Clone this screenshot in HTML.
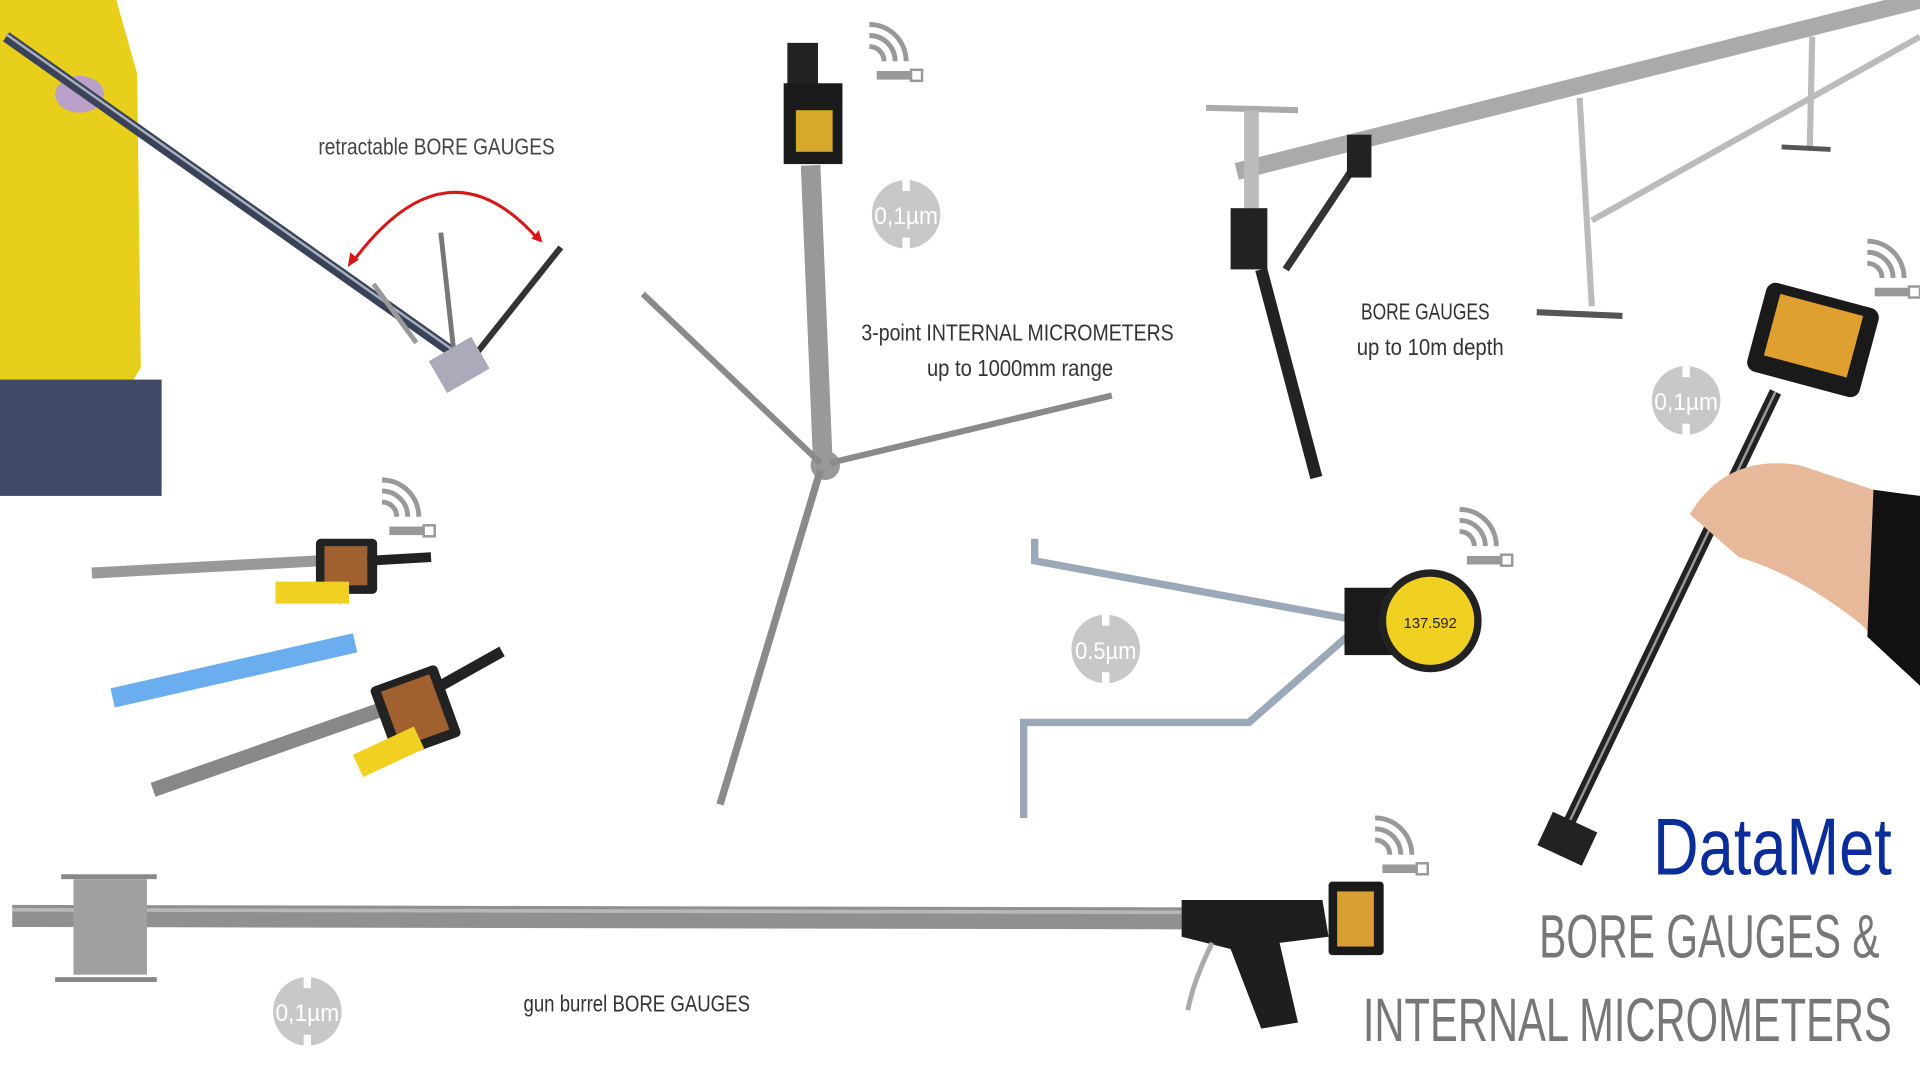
<!DOCTYPE html>
<html><head><meta charset="utf-8"><style>
html,body{margin:0;padding:0;background:#fff;}
svg{display:block;}
text{font-family:"Liberation Sans",sans-serif;}
</style></head><body>
<svg width="1920" height="1080" viewBox="0 0 1568 882" preserveAspectRatio="none" xmlns="http://www.w3.org/2000/svg">
<defs>
<g id="wifi"><path d="M0,0 a30,30 0 0 1 30,30" fill="none" stroke="#999" stroke-width="4"/><path d="M0,9 a21,21 0 0 1 21,21" fill="none" stroke="#999" stroke-width="4"/><path d="M0,18 a12,12 0 0 1 12,12" fill="none" stroke="#999" stroke-width="4"/><rect x="6" y="38" width="28" height="7" fill="#999"/><rect x="34" y="37" width="9" height="9" fill="none" stroke="#999" stroke-width="2"/></g>
<g id="res"><circle r="28" fill="#c8c8c8"/><rect x="-3" y="-28" width="6" height="9" fill="#fff"/><rect x="-3" y="19" width="6" height="9" fill="#fff"/></g>
</defs>
<rect width="1568" height="882" fill="#fff"/>
<!-- person -->
<path d="M0,0 L95,0 L112,60 L115,300 L95,335 L0,335 Z" fill="#e8cf1c"/>
<rect x="0" y="310" width="132" height="95" fill="#3e4a66"/>
<ellipse cx="65" cy="77" rx="20" ry="15" fill="#b9a0c8"/>
<line x1="5" y1="30" x2="380" y2="295" stroke="#3a4258" stroke-width="9"/>
<line x1="5" y1="28" x2="380" y2="293" stroke="#a8b0c0" stroke-width="2"/>
<line x1="372" y1="300" x2="360" y2="190" stroke="#777" stroke-width="4"/>
<line x1="380" y1="300" x2="458" y2="202" stroke="#333" stroke-width="5"/>
<line x1="340" y1="280" x2="305" y2="232" stroke="#999" stroke-width="4"/>
<rect x="355" y="283" width="40" height="30" fill="#aab" transform="rotate(-30 375 298)"/>
<path d="M288,214 Q365,110 440,196" fill="none" stroke="#d81818" stroke-width="2.5"/>
<path d="M284,218 l2,-12 l7,6 z M443,198 l-9,-3 l6,-7 z" fill="#d81818"/>
<text x="260" y="126" font-size="19" fill="#444" textLength="193" lengthAdjust="spacingAndGlyphs">retractable BORE GAUGES</text>
<!-- tripod micrometer -->
<use href="#wifi" x="710" y="20"/>
<rect x="643" y="35" width="25" height="35" fill="#222"/>
<rect x="640" y="68" width="48" height="66" fill="#1a1a1a"/>
<rect x="650" y="90" width="30" height="34" fill="#d8a82a"/>
<line x1="662" y1="135" x2="672" y2="378" stroke="#999" stroke-width="16"/>
<circle cx="674" cy="380" r="12" fill="#999"/>
<line x1="670" y1="378" x2="525" y2="240" stroke="#8a8a8a" stroke-width="5"/>
<line x1="678" y1="378" x2="908" y2="323" stroke="#8a8a8a" stroke-width="5"/>
<line x1="670" y1="384" x2="588" y2="657" stroke="#8a8a8a" stroke-width="6"/>
<use href="#res" x="740" y="175"/>
<text x="740" y="183" font-size="20" fill="#fff" text-anchor="middle" textLength="52" lengthAdjust="spacingAndGlyphs">0,1µm</text>
<text x="831" y="278" font-size="19" fill="#333" text-anchor="middle" textLength="255" lengthAdjust="spacingAndGlyphs">3-point INTERNAL MICROMETERS</text>
<text x="833" y="307" font-size="19" fill="#333" text-anchor="middle" textLength="152" lengthAdjust="spacingAndGlyphs">up to 1000mm range</text>
<!-- top right rail -->
<line x1="1010" y1="140" x2="1568" y2="0" stroke="#aaa" stroke-width="14"/>
<line x1="1300" y1="180" x2="1568" y2="30" stroke="#bbb" stroke-width="5"/>
<line x1="1290" y1="80" x2="1300" y2="250" stroke="#bbb" stroke-width="5"/>
<line x1="1255" y1="255" x2="1325" y2="258" stroke="#555" stroke-width="5"/>
<line x1="1480" y1="30" x2="1478" y2="120" stroke="#bbb" stroke-width="5"/>
<line x1="1455" y1="120" x2="1495" y2="122" stroke="#555" stroke-width="4"/>
<line x1="985" y1="88" x2="1060" y2="90" stroke="#aaa" stroke-width="5"/>
<line x1="1022" y1="90" x2="1022" y2="170" stroke="#bbb" stroke-width="12"/>
<rect x="1005" y="170" width="30" height="50" fill="#222"/>
<line x1="1030" y1="220" x2="1075" y2="390" stroke="#222" stroke-width="10"/>
<line x1="1050" y1="220" x2="1110" y2="130" stroke="#333" stroke-width="6"/>
<rect x="1100" y="110" width="20" height="35" fill="#222"/>
<text x="1164" y="261" font-size="19" fill="#333" text-anchor="middle" textLength="105" lengthAdjust="spacingAndGlyphs">BORE GAUGES</text>
<text x="1168" y="290" font-size="19" fill="#333" text-anchor="middle" textLength="120" lengthAdjust="spacingAndGlyphs">up to 10m depth</text>
<!-- right handheld -->
<use href="#wifi" x="1525" y="197"/>
<rect x="1433" y="240" width="95" height="75" rx="8" fill="#1a1a1a" transform="rotate(15 1480 278)"/>
<rect x="1445" y="248" width="70" height="52" fill="#e0a030" transform="rotate(15 1480 278)"/>
<line x1="1450" y1="320" x2="1275" y2="685" stroke="#222" stroke-width="10"/>
<line x1="1450" y1="320" x2="1275" y2="685" stroke="#999" stroke-width="2"/>
<rect x="1260" y="670" width="40" height="30" fill="#222" transform="rotate(25 1280 685)"/>
<path d="M1380,420 Q1410,370 1470,380 L1530,400 L1568,410 L1568,560 L1520,510 Q1470,470 1420,455 Z" fill="#e8b89a"/>
<path d="M1530,400 L1568,405 L1568,560 L1525,520 Z" fill="#111"/>
<use href="#res" x="1377" y="327"/>
<text x="1377" y="335" font-size="20" fill="#fff" text-anchor="middle" textLength="52" lengthAdjust="spacingAndGlyphs">0,1µm</text>
<!-- left gauges -->
<use href="#wifi" x="312" y="392"/>
<line x1="75" y1="468" x2="260" y2="458" stroke="#999" stroke-width="9"/>
<rect x="258" y="440" width="50" height="45" rx="4" fill="#222"/>
<rect x="265" y="446" width="35" height="32" fill="#a06030"/>
<rect x="225" y="475" width="60" height="18" fill="#f0d020"/>
<line x1="300" y1="458" x2="352" y2="455" stroke="#222" stroke-width="8"/>
<line x1="92" y1="570" x2="290" y2="525" stroke="#6aaef0" stroke-width="16"/>
<line x1="125" y1="645" x2="310" y2="580" stroke="#888" stroke-width="12"/>
<rect x="310" y="550" width="58" height="62" rx="4" fill="#222" transform="rotate(-20 340 580)"/>
<rect x="318" y="556" width="42" height="48" fill="#a06030" transform="rotate(-20 340 580)"/>
<rect x="290" y="605" width="55" height="20" fill="#f0d020" transform="rotate(-25 315 615)"/>
<line x1="360" y1="560" x2="410" y2="532" stroke="#222" stroke-width="9"/>
<!-- caliper -->
<use href="#wifi" x="1192" y="416"/>
<path d="M845,440 L845,458 L1100,505" fill="none" stroke="#9aa8b8" stroke-width="6"/>
<path d="M836,668 L836,590 L1020,590 L1100,520" fill="none" stroke="#9aa8b8" stroke-width="6"/>
<rect x="1098" y="480" width="40" height="55" fill="#1a1a1a"/>
<circle cx="1168" cy="507" r="42" fill="#222"/>
<circle cx="1168" cy="507" r="36" fill="#f0d020"/>
<text x="1168" y="513" font-size="12" fill="#222" text-anchor="middle">137.592</text>
<use href="#res" x="903" y="530"/>
<text x="903" y="538" font-size="20" fill="#fff" text-anchor="middle" textLength="50" lengthAdjust="spacingAndGlyphs">0.5µm</text>
<!-- gun burrel -->
<use href="#wifi" x="1123" y="668"/>
<line x1="10" y1="748" x2="965" y2="750" stroke="#909090" stroke-width="18"/>
<line x1="10" y1="743" x2="965" y2="745" stroke="#b8b8b8" stroke-width="3"/>
<line x1="50" y1="716" x2="128" y2="716" stroke="#888" stroke-width="4"/>
<line x1="45" y1="800" x2="128" y2="800" stroke="#888" stroke-width="4"/>
<rect x="60" y="718" width="60" height="78" fill="#a0a0a0"/>
<path d="M965,735 L1080,735 L1085,765 L1045,770 L1060,835 L1030,840 L1005,775 L965,765 Z" fill="#1e1e1e"/>
<path d="M990,770 Q975,800 970,825" fill="none" stroke="#aaa" stroke-width="4"/>
<rect x="1085" y="720" width="45" height="60" rx="3" fill="#1a1a1a"/>
<rect x="1092" y="728" width="30" height="45" fill="#d8a030"/>
<use href="#res" x="251" y="826"/>
<text x="251" y="834" font-size="20" fill="#fff" text-anchor="middle" textLength="52" lengthAdjust="spacingAndGlyphs">0,1µm</text>
<text x="520" y="826" font-size="19" fill="#333" text-anchor="middle" textLength="185" lengthAdjust="spacingAndGlyphs">gun burrel BORE GAUGES</text>
<!-- title -->
<text x="1545" y="714" font-size="66" fill="#0b2d9a" text-anchor="end" textLength="195" lengthAdjust="spacingAndGlyphs">DataMet</text>
<text x="1535" y="782" font-size="50" fill="#777" text-anchor="end" textLength="278" lengthAdjust="spacingAndGlyphs">BORE GAUGES &amp;</text>
<text x="1545" y="850" font-size="50" fill="#777" text-anchor="end" textLength="432" lengthAdjust="spacingAndGlyphs">INTERNAL MICROMETERS</text>
</svg>
</body></html>
